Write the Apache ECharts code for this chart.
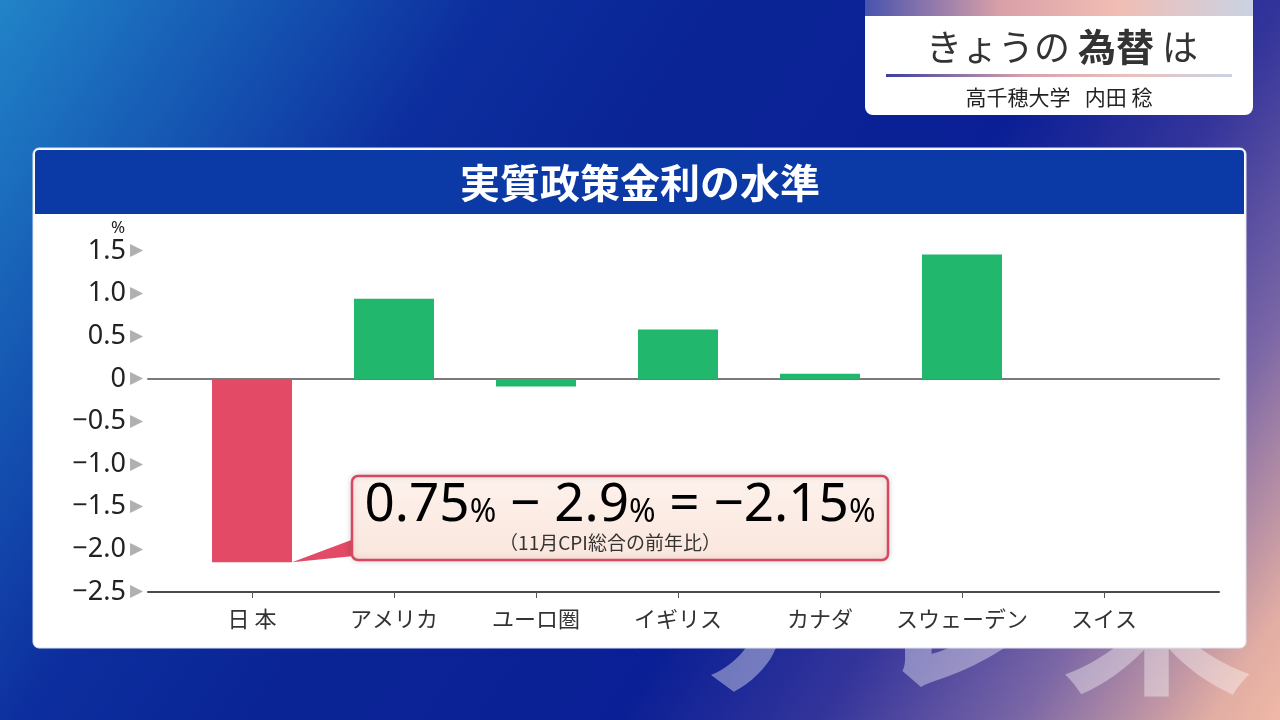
<!DOCTYPE html>
<html><head><meta charset="utf-8">
<script src="https://cdn.jsdelivr.net/npm/echarts/dist/echarts.min.js"></script>
<style>
html,body{margin:0;padding:0;width:1280px;height:720px;overflow:hidden;}
#c{width:1280px;height:720px;background:linear-gradient(123deg,#2184c8 0%,#1556b2 15%,#0d2e9e 28%,#0a2596 40%,#0a1f95 62%,#35359b 74%,#7a66a6 85%,#e2ada3 96%,#efb8a6 100%);}
</style></head><body>
<div id="c"></div>
<script>
const categories = ['日 本','アメリカ','ユーロ圏','イギリス','カナダ','スウェーデン','スイス'];
const values = [-2.15, 0.94, -0.09, 0.58, 0.06, 1.46, 0];
const yMin = -2.5, yMax = 1.5, yStep = 0.5;
const chartTitle = '実質政策金利の水準';
const unitLabel = '%';
const noteFormula = ['0.75','%',' − 2.9','%',' = −2.15','%'];
const noteSub = '（11月CPI総合の前年比）';

const RED = '#e24a66', GREEN = '#21b86d';
const FONT_JP = '"Noto Sans CJK JP", sans-serif';
const FONT_NUM = '"Noto Sans", "Open Sans", sans-serif';

function fmtY(v){ if (Math.abs(v) < 1e-9) return '0'; return v.toFixed(1).replace('-', '−'); }

const chart = echarts.init(document.getElementById('c'), null, {renderer:'canvas'});

const panelGraphics = [
  {type:'text', z:-30, x:962, y:605, style:{text:'テレ東', fill:'rgba(255,255,255,0.38)', font:'bold 195px '+FONT_JP, align:'center', verticalAlign:'middle'}},
  {type:'rect', z:-20, shape:{x:33,y:148,width:1213,height:500,r:6}, style:{fill:'#ffffff', stroke:'#dfe4f0', lineWidth:1}},
  {type:'rect', z:-19, shape:{x:35,y:150,width:1209,height:64,r:[4,4,0,0]}, style:{fill:'#0b3aa6'}},
  {type:'text', z:-18, x:640, y:183, style:{text:chartTitle, fill:'#ffffff', font:'bold 40px '+FONT_JP, align:'center', verticalAlign:'middle'}},
  {type:'text', z:5, x:118, y:228, style:{text:unitLabel, fill:'#222', font:'17px '+FONT_NUM, align:'center', verticalAlign:'middle'}},
  // top-right caption box
  {type:'rect', z:-20, shape:{x:865,y:-10,width:388,height:125,r:8}, style:{fill:'#ffffff'}},
  {type:'rect', z:-19, shape:{x:865,y:0,width:388,height:16}, style:{fill:new echarts.graphic.LinearGradient(0,0,1,0,[{offset:0,color:'#4953ae'},{offset:0.35,color:'#d9a0a8'},{offset:0.65,color:'#f1bdb4'},{offset:1,color:'#c9d3e3'}])}},
  {type:'text', z:-18, x:1062, y:47, style:{text:'{a|きょうの }{b|為替}{a| は}', align:'center', verticalAlign:'middle',
     rich:{a:{font:'36px '+FONT_JP, fill:'#333'}, b:{font:'bold 38px '+FONT_JP, fill:'#333'}}}},
  {type:'rect', z:-18, shape:{x:886,y:74,width:346,height:3}, style:{fill:new echarts.graphic.LinearGradient(0,0,1,0,[{offset:0,color:'#3a3f9f'},{offset:0.4,color:'#d5a2ac'},{offset:0.7,color:'#e9c1bd'},{offset:1,color:'#c8d4e2'}])}},
  {type:'text', z:-18, x:1059, y:97, style:{text:'高千穂大学   内田 稔', fill:'#222', font:'21px '+FONT_JP, align:'center', verticalAlign:'middle'}}
];

const option = {
  backgroundColor:'transparent',
  animation:false,
  grid:[
    {left:181, right:105, top:251, bottom:128},
    {left:148, right:61, top:251, bottom:128}
  ],
  xAxis:[
    {type:'category', gridIndex:0, data:categories, axisLine:{show:false, onZero:false},
     axisTick:{show:true, alignWithLabel:true, length:6, lineStyle:{color:'#555', width:1}},
     axisLabel:{interval:0, color:'#333', fontSize:22, fontFamily:'Noto Sans CJK JP', margin:16}},
    {type:'value', gridIndex:1, min:0, max:1, axisLine:{show:true, onZero:true, lineStyle:{color:'#7a7a7a', width:2}},
     axisTick:{show:false}, axisLabel:{show:false}, splitLine:{show:false}},
    {type:'value', gridIndex:1, min:0, max:1, position:'bottom', axisLine:{show:true, onZero:false, lineStyle:{color:'#4a4a4a', width:2}},
     axisTick:{show:false}, axisLabel:{show:false}, splitLine:{show:false}}
  ],
  yAxis:[
    {type:'value', gridIndex:0, min:yMin, max:yMax, interval:yStep, show:false},
    {type:'value', gridIndex:1, min:yMin, max:yMax, interval:yStep,
     axisLine:{show:false}, axisTick:{show:false}, splitLine:{show:false},
     axisLabel:{margin:5, fontSize:27, formatter:v => '{n|'+fmtY(v)+'}{t|▶}',
       rich:{n:{fontSize:27, color:'#222', fontFamily:'Noto Sans'}, t:{fontSize:17, color:'#b0b0b0', padding:[0,0,0,4], fontFamily:'DejaVu Sans'}}}}
  ],
  series:[
    {type:'bar', xAxisIndex:0, yAxisIndex:0, barWidth:80, z:3,
     data: values.map((v,i)=>({value:v, itemStyle:{color: i===0 ? RED : GREEN}}))}
  ],
  graphic: panelGraphics
};
chart.setOption(option);

// annotation attached to the Japan bar
const tip = chart.convertToPixel({xAxisIndex:0, yAxisIndex:0}, [0, values[0]]);
const tipX = tip[0] + 40, tipY = tip[1];
const boxX = 352, boxY = 476, boxW = 536, boxH = 84;
const rich = {
  b:{fontSize:53, color:'#2a2a2a', fontFamily:'Noto Sans'},
  p:{fontSize:32, color:'#2a2a2a', fontFamily:'Noto Sans', padding:[13,0,0,0]}
};
const formulaText = noteFormula.map((s,i)=> (i%2===0 ? '{b|'+s+'}' : '{p|'+s+'}')).join('');
chart.setOption({graphic: panelGraphics.concat([
  {type:'polygon', z:50, shape:{points:[[tipX,tipY],[boxX+2,boxY+63],[boxX+2,boxY+80]]}, style:{fill:RED}},
  {type:'rect', z:51, shape:{x:boxX,y:boxY,width:boxW,height:boxH,r:6},
   style:{fill:new echarts.graphic.LinearGradient(0,0,0,1,[{offset:0,color:'#fdf2ec'},{offset:1,color:'#fae6dd'}]), stroke:'#d8475f', lineWidth:2.5, shadowBlur:6, shadowColor:'rgba(0,0,0,0.15)'}},
  {type:'text', z:52, x:boxX+boxW/2, y:boxY+30, style:{text:formulaText, rich:rich, align:'center', verticalAlign:'middle'}},
  {type:'text', z:52, x:boxX+boxW/2 - 10, y:boxY+67, style:{text:noteSub, fill:'#333', font:'19px '+FONT_JP, align:'center', verticalAlign:'middle'}}
])});
</script>
</body></html>
